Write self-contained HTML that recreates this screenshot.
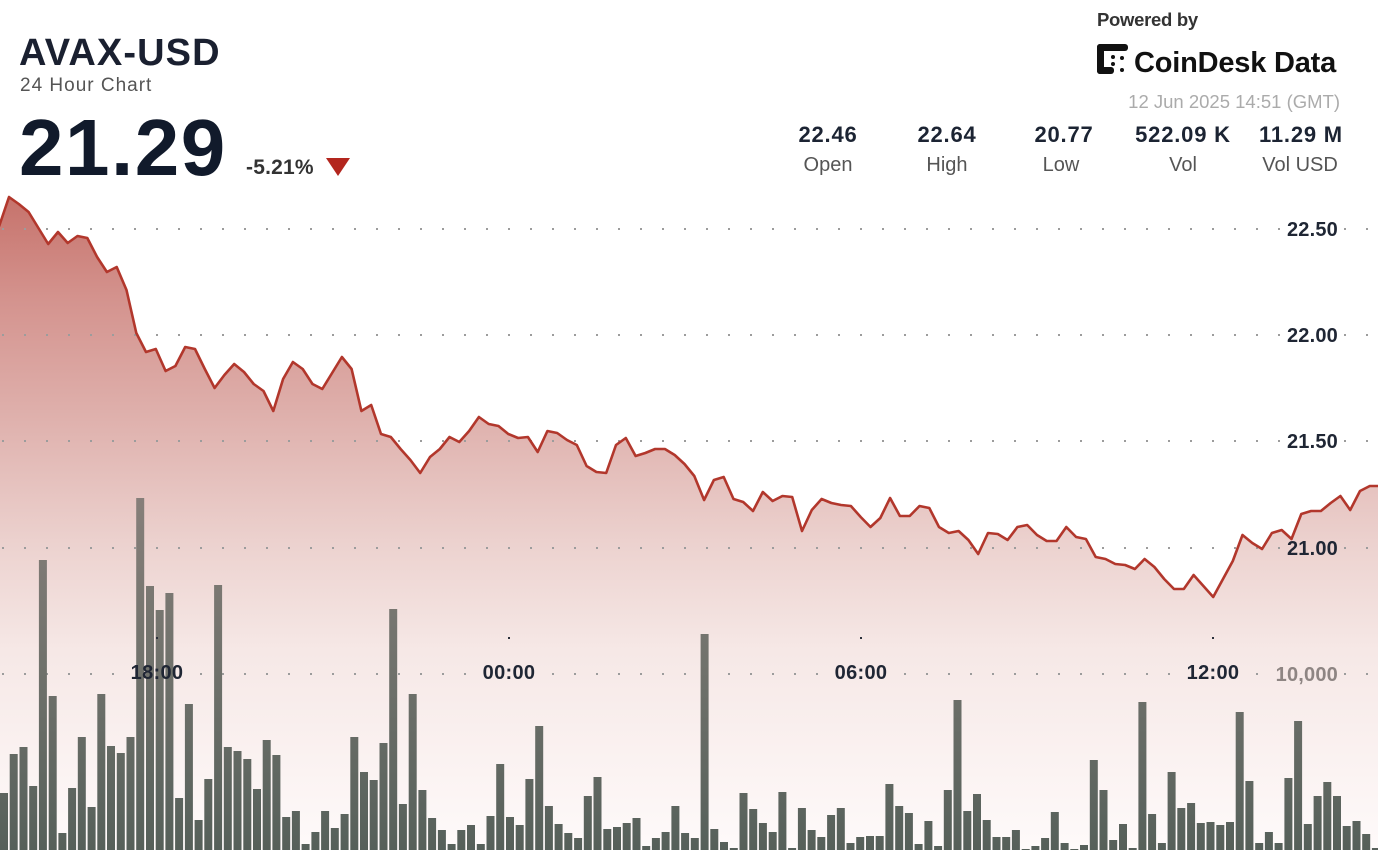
<!DOCTYPE html>
<html>
<head>
<meta charset="utf-8">
<style>
  html, body { margin: 0; padding: 0; background: #ffffff; }
  body { width: 1378px; height: 850px; overflow: hidden; }
  svg { display: block; }
  text { font-family: "Liberation Sans", "DejaVu Sans", sans-serif; }
</style>
</head>
<body>
<svg width="1378" height="850" viewBox="0 0 1378 850" xmlns="http://www.w3.org/2000/svg">
  <defs>
    <linearGradient id="fillg" gradientUnits="userSpaceOnUse" x1="0" y1="195" x2="0" y2="850">
      <stop offset="0" stop-color="#c6726b"/>
      <stop offset="0.16" stop-color="#d4938e"/>
      <stop offset="0.343" stop-color="#dfb1ad"/>
      <stop offset="0.534" stop-color="#ecd2cf"/>
      <stop offset="0.695" stop-color="#f6e8e6"/>
      <stop offset="1" stop-color="#fefafa"/>
    </linearGradient>
    <linearGradient id="barg" gradientUnits="userSpaceOnUse" x1="0" y1="495" x2="0" y2="850">
      <stop offset="0" stop-color="#877f7a"/>
      <stop offset="0.5" stop-color="#6f716b"/>
      <stop offset="1" stop-color="#56605a"/>
    </linearGradient>
    <pattern id="dots" x="2" y="0" width="22" height="1" patternUnits="userSpaceOnUse">
      <rect x="0" y="0" width="2" height="1" fill="#9c9c9c"/>
    </pattern>
  </defs>

  <!-- Area fill -->
  <polygon fill="url(#fillg)" points="-0.8,850 -0.8,226 9.0,197 18.8,204 28.6,212 38.4,228 48.2,244 58,232 67.7,243 77.5,236 87.3,238 97.1,257 106.9,272 116.7,267 126.5,290 136.3,333 146,352 155.8,349 165.6,371 175.4,366 185.2,347 195,349 204.8,369 214.6,388 224.4,375 234.2,364 244,372 253.7,384 263.5,391 273.3,411 283.1,379 292.9,362 302.7,369 312.5,384 322.3,389 332.1,373 341.9,357 351.6,369 361.4,411 371.2,405 381,434 390.8,437 400.6,449 410.4,460 420.2,473 430,457 439.8,449 449.5,437 459.3,442 469.1,431 478.9,417 488.7,424 498.5,426 508.3,434 518.1,438 527.9,437 537.7,452 547.4,431 557.2,433 567,440 576.8,445 586.6,466 596.4,472 606.2,473 616,445 625.8,438 635.6,456 645.3,453 655.1,449 664.9,449 674.7,455 684.5,464 694.3,476 704.1,500 713.9,480 723.7,477 733.5,499 743.2,502 753,511 762.8,492 772.6,501 782.4,496 792.2,497 802,531 811.8,510 821.6,499 831.4,503 841.1,505 850.9,506 860.7,517 870.5,527 880.3,518 890.1,498 899.9,516 909.7,516 919.5,506 929.3,508 939,527 948.8,533 958.6,531 968.4,540 978.2,554 988,533 997.8,534 1007.6,540 1017.4,527 1027.2,525 1037,535 1046.7,541 1056.5,541 1066.3,527 1076.1,537 1085.9,539 1095.7,557 1105.5,559 1115.3,564 1125.1,565 1134.9,569 1144.6,559 1154.4,567 1164.2,579 1174,589 1183.8,589 1193.6,575 1203.4,586 1213.2,597 1223,579 1232.8,561 1242.5,535 1252.3,543 1262.1,549 1271.9,533 1281.7,530 1291.5,539 1301.3,514 1311.1,511 1320.9,511 1330.7,503 1340.4,496 1350.2,510 1360,491 1369.8,486 1379.6,486 1380,850"/>

  <!-- Dotted grid lines -->
  <g fill="url(#dots)">
    <rect x="0" y="228" width="1282" height="2"/>
    <rect x="1342" y="228" width="36" height="2"/>
    <rect x="0" y="334" width="1282" height="2"/>
    <rect x="1342" y="334" width="36" height="2"/>
    <rect x="0" y="440" width="1282" height="2"/>
    <rect x="1342" y="440" width="36" height="2"/>
    <rect x="0" y="547" width="1282" height="2"/>
    <rect x="1342" y="547" width="36" height="2"/>
    <rect x="0" y="673" width="120" height="2"/>
    <rect x="196" y="673" width="276" height="2"/>
    <rect x="548" y="673" width="276" height="2"/>
    <rect x="900" y="673" width="276" height="2"/>
    <rect x="1252" y="673" width="10" height="2"/>
    <rect x="1342" y="673" width="36" height="2"/>
  </g>

  <!-- Volume bars -->
  <g fill="url(#barg)">
<rect x="0" y="793" width="8" height="80"/><rect x="9.7" y="754" width="8" height="120"/><rect x="19.5" y="747" width="8" height="120"/><rect x="29.2" y="786" width="8" height="80"/><rect x="38.9" y="560" width="8" height="300"/><rect x="48.7" y="696" width="8" height="160"/><rect x="58.4" y="833" width="8" height="30"/><rect x="68.1" y="788" width="8" height="80"/><rect x="77.8" y="737" width="8" height="120"/><rect x="87.6" y="807" width="8" height="50"/>
<rect x="97.3" y="694" width="8" height="160"/><rect x="107.0" y="746" width="8" height="120"/><rect x="116.8" y="753" width="8" height="120"/><rect x="126.5" y="737" width="8" height="120"/><rect x="136.2" y="498" width="8" height="360"/><rect x="146.0" y="586" width="8" height="270"/><rect x="155.7" y="610" width="8" height="250"/><rect x="165.4" y="593" width="8" height="260"/><rect x="175.1" y="798" width="8" height="60"/><rect x="184.9" y="704" width="8" height="150"/>
<rect x="194.6" y="820" width="8" height="40"/><rect x="204.3" y="779" width="8" height="80"/><rect x="214.1" y="585" width="8" height="270"/><rect x="223.8" y="747" width="8" height="120"/><rect x="233.5" y="751" width="8" height="120"/><rect x="243.3" y="759" width="8" height="100"/><rect x="253.0" y="789" width="8" height="80"/><rect x="262.7" y="740" width="8" height="120"/><rect x="272.4" y="755" width="8" height="100"/><rect x="282.2" y="817" width="8" height="40"/>
<rect x="291.9" y="811" width="8" height="40"/><rect x="301.6" y="844" width="8" height="10"/><rect x="311.4" y="832" width="8" height="30"/><rect x="321.1" y="811" width="8" height="40"/><rect x="330.8" y="828" width="8" height="30"/><rect x="340.6" y="814" width="8" height="40"/><rect x="350.3" y="737" width="8" height="120"/><rect x="360.0" y="772" width="8" height="80"/><rect x="369.7" y="780" width="8" height="80"/><rect x="379.5" y="743" width="8" height="120"/>
<rect x="389.2" y="609" width="8" height="250"/><rect x="398.9" y="804" width="8" height="50"/><rect x="408.7" y="694" width="8" height="160"/><rect x="418.4" y="790" width="8" height="80"/><rect x="428.1" y="818" width="8" height="40"/><rect x="437.9" y="830" width="8" height="30"/><rect x="447.6" y="844" width="8" height="10"/><rect x="457.3" y="830" width="8" height="30"/><rect x="467.0" y="825" width="8" height="30"/><rect x="476.8" y="844" width="8" height="10"/>
<rect x="486.5" y="816" width="8" height="40"/><rect x="496.2" y="764" width="8" height="90"/><rect x="506.0" y="817" width="8" height="40"/><rect x="515.7" y="825" width="8" height="30"/><rect x="525.4" y="779" width="8" height="80"/><rect x="535.2" y="726" width="8" height="130"/><rect x="544.9" y="806" width="8" height="50"/><rect x="554.6" y="824" width="8" height="30"/><rect x="564.3" y="833" width="8" height="30"/><rect x="574.1" y="838" width="8" height="20"/>
<rect x="583.8" y="796" width="8" height="60"/><rect x="593.5" y="777" width="8" height="80"/><rect x="603.3" y="829" width="8" height="30"/><rect x="613.0" y="827" width="8" height="30"/><rect x="622.7" y="823" width="8" height="30"/><rect x="632.5" y="818" width="8" height="40"/><rect x="642.2" y="846" width="8" height="10"/><rect x="651.9" y="838" width="8" height="20"/><rect x="661.6" y="832" width="8" height="30"/><rect x="671.4" y="806" width="8" height="50"/>
<rect x="681.1" y="833" width="8" height="30"/><rect x="690.8" y="838" width="8" height="20"/><rect x="700.6" y="634" width="8" height="220"/><rect x="710.3" y="829" width="8" height="30"/><rect x="720.0" y="842" width="8" height="10"/><rect x="729.8" y="848" width="8" height="10"/><rect x="739.5" y="793" width="8" height="60"/><rect x="749.2" y="809" width="8" height="50"/><rect x="758.9" y="823" width="8" height="30"/><rect x="768.7" y="832" width="8" height="30"/>
<rect x="778.4" y="792" width="8" height="60"/><rect x="788.1" y="848" width="8" height="10"/><rect x="797.9" y="808" width="8" height="50"/><rect x="807.6" y="830" width="8" height="30"/><rect x="817.3" y="837" width="8" height="20"/><rect x="827.1" y="815" width="8" height="40"/><rect x="836.8" y="808" width="8" height="50"/><rect x="846.5" y="843" width="8" height="10"/><rect x="856.2" y="837" width="8" height="20"/><rect x="866.0" y="836" width="8" height="20"/>
<rect x="875.7" y="836" width="8" height="20"/><rect x="885.4" y="784" width="8" height="70"/><rect x="895.2" y="806" width="8" height="50"/><rect x="904.9" y="813" width="8" height="40"/><rect x="914.6" y="844" width="8" height="10"/><rect x="924.4" y="821" width="8" height="30"/><rect x="934.1" y="846" width="8" height="10"/><rect x="943.8" y="790" width="8" height="80"/><rect x="953.5" y="700" width="8" height="160"/><rect x="963.3" y="811" width="8" height="40"/>
<rect x="973.0" y="794" width="8" height="60"/><rect x="982.7" y="820" width="8" height="30"/><rect x="992.5" y="837" width="8" height="20"/><rect x="1002.2" y="837" width="8" height="20"/><rect x="1011.9" y="830" width="8" height="30"/><rect x="1021.7" y="849" width="8" height="10"/><rect x="1031.4" y="846" width="8" height="10"/><rect x="1041.1" y="838" width="8" height="20"/><rect x="1050.8" y="812" width="8" height="40"/><rect x="1060.6" y="843" width="8" height="10"/>
<rect x="1070.3" y="849" width="8" height="10"/><rect x="1080.0" y="845" width="8" height="10"/><rect x="1089.8" y="760" width="8" height="90"/><rect x="1099.5" y="790" width="8" height="80"/><rect x="1109.2" y="840" width="8" height="20"/><rect x="1119.0" y="824" width="8" height="30"/><rect x="1128.7" y="848" width="8" height="10"/><rect x="1138.4" y="702" width="8" height="150"/><rect x="1148.1" y="814" width="8" height="40"/><rect x="1157.9" y="843" width="8" height="10"/>
<rect x="1167.6" y="772" width="8" height="80"/><rect x="1177.3" y="808" width="8" height="50"/><rect x="1187.1" y="803" width="8" height="50"/><rect x="1196.8" y="823" width="8" height="30"/><rect x="1206.5" y="822" width="8" height="30"/><rect x="1216.3" y="825" width="8" height="30"/><rect x="1226.0" y="822" width="8" height="30"/><rect x="1235.7" y="712" width="8" height="140"/><rect x="1245.4" y="781" width="8" height="80"/><rect x="1255.2" y="843" width="8" height="10"/>
<rect x="1264.9" y="832" width="8" height="30"/><rect x="1274.6" y="843" width="8" height="10"/><rect x="1284.4" y="778" width="8" height="80"/><rect x="1294.1" y="721" width="8" height="130"/><rect x="1303.8" y="824" width="8" height="30"/><rect x="1313.6" y="796" width="8" height="60"/><rect x="1323.3" y="782" width="8" height="80"/><rect x="1333.0" y="796" width="8" height="60"/><rect x="1342.7" y="826" width="8" height="30"/><rect x="1352.5" y="821" width="8" height="30"/>
<rect x="1362.2" y="834" width="8" height="20"/><rect x="1371.9" y="848" width="8" height="10"/>
  </g>

  <!-- Price line -->
  <polyline fill="none" stroke="#b2372c" stroke-width="2.6" stroke-linejoin="round" stroke-linecap="round" points="-0.8,226 9.0,197 18.8,204 28.6,212 38.4,228 48.2,244 58,232 67.7,243 77.5,236 87.3,238 97.1,257 106.9,272 116.7,267 126.5,290 136.3,333 146,352 155.8,349 165.6,371 175.4,366 185.2,347 195,349 204.8,369 214.6,388 224.4,375 234.2,364 244,372 253.7,384 263.5,391 273.3,411 283.1,379 292.9,362 302.7,369 312.5,384 322.3,389 332.1,373 341.9,357 351.6,369 361.4,411 371.2,405 381,434 390.8,437 400.6,449 410.4,460 420.2,473 430,457 439.8,449 449.5,437 459.3,442 469.1,431 478.9,417 488.7,424 498.5,426 508.3,434 518.1,438 527.9,437 537.7,452 547.4,431 557.2,433 567,440 576.8,445 586.6,466 596.4,472 606.2,473 616,445 625.8,438 635.6,456 645.3,453 655.1,449 664.9,449 674.7,455 684.5,464 694.3,476 704.1,500 713.9,480 723.7,477 733.5,499 743.2,502 753,511 762.8,492 772.6,501 782.4,496 792.2,497 802,531 811.8,510 821.6,499 831.4,503 841.1,505 850.9,506 860.7,517 870.5,527 880.3,518 890.1,498 899.9,516 909.7,516 919.5,506 929.3,508 939,527 948.8,533 958.6,531 968.4,540 978.2,554 988,533 997.8,534 1007.6,540 1017.4,527 1027.2,525 1037,535 1046.7,541 1056.5,541 1066.3,527 1076.1,537 1085.9,539 1095.7,557 1105.5,559 1115.3,564 1125.1,565 1134.9,569 1144.6,559 1154.4,567 1164.2,579 1174,589 1183.8,589 1193.6,575 1203.4,586 1213.2,597 1223,579 1232.8,561 1242.5,535 1252.3,543 1262.1,549 1271.9,533 1281.7,530 1291.5,539 1301.3,514 1311.1,511 1320.9,511 1330.7,503 1340.4,496 1350.2,510 1360,491 1369.8,486 1379.6,486"/>

  <!-- X-axis tick dots -->
  <g fill="#2a2f3a">
    <rect x="156" y="637" width="2" height="2"/>
    <rect x="508" y="637" width="2" height="2"/>
    <rect x="860" y="637" width="2" height="2"/>
    <rect x="1212" y="637" width="2" height="2"/>
  </g>

  <!-- X-axis labels -->
  <g font-size="20" font-weight="bold" fill="#1f2634" text-anchor="middle" letter-spacing="0.3">
    <text x="157" y="679">18:00</text>
    <text x="509" y="679">00:00</text>
    <text x="861" y="679">06:00</text>
    <text x="1213" y="679">12:00</text>
  </g>

  <!-- Y-axis labels -->
  <g font-size="20" font-weight="bold" fill="#1f2634" text-anchor="end" letter-spacing="0.2">
    <text x="1338" y="236">22.50</text>
    <text x="1338" y="342">22.00</text>
    <text x="1338" y="448">21.50</text>
    <text x="1338" y="555">21.00</text>
  </g>
  <text x="1338" y="681" font-size="20" font-weight="bold" fill="#8e8583" text-anchor="end" letter-spacing="0.2">10,000</text>

  <!-- Header left -->
  <text x="19" y="65" font-size="38" font-weight="bold" fill="#1a2030" letter-spacing="1.1">AVAX-USD</text>
  <text x="20" y="91" font-size="19" fill="#555555" letter-spacing="1">24 Hour Chart</text>
  <text x="19" y="175" font-size="80" font-weight="bold" fill="#111a2b" letter-spacing="1.5">21.29</text>
  <text x="246" y="174" font-size="21" font-weight="bold" fill="#333333" letter-spacing="0.2">-5.21%</text>
  <polygon points="326,158 350,158 338,176" fill="#b3261e"/>

  <!-- Header right: logo -->
  <text x="1097" y="26" font-size="18.5" font-weight="bold" fill="#333333" letter-spacing="-0.3">Powered by</text>
  <g fill="#111111">
    <rect x="1097" y="44" width="7" height="30" rx="3"/>
    <rect x="1097" y="44" width="31" height="7" rx="3"/>
    <rect x="1097" y="67" width="17" height="7" rx="3"/>
    <circle cx="1113" cy="57" r="2"/>
    <circle cx="1113" cy="64" r="2"/>
    <circle cx="1122" cy="58" r="2"/>
    <circle cx="1122" cy="70" r="2"/>
  </g>
  <text x="1134" y="72" font-size="29" font-weight="bold" fill="#111111" letter-spacing="-0.2">CoinDesk Data</text>
  <text x="1340" y="108" font-size="18.5" fill="#ababab" text-anchor="end">12 Jun 2025 14:51 (GMT)</text>

  <!-- Stats -->
  <g font-size="22" font-weight="bold" fill="#1c2433" text-anchor="middle" letter-spacing="0.8">
    <text x="828" y="142">22.46</text>
    <text x="947" y="142">22.64</text>
    <text x="1064" y="142">20.77</text>
    <text x="1183" y="142">522.09 K</text>
    <text x="1301" y="142">11.29 M</text>
  </g>
  <g font-size="20" fill="#555555" text-anchor="middle">
    <text x="828" y="171">Open</text>
    <text x="947" y="171">High</text>
    <text x="1061" y="171">Low</text>
    <text x="1183" y="171">Vol</text>
    <text x="1300" y="171">Vol USD</text>
  </g>
</svg>
</body>
</html>
